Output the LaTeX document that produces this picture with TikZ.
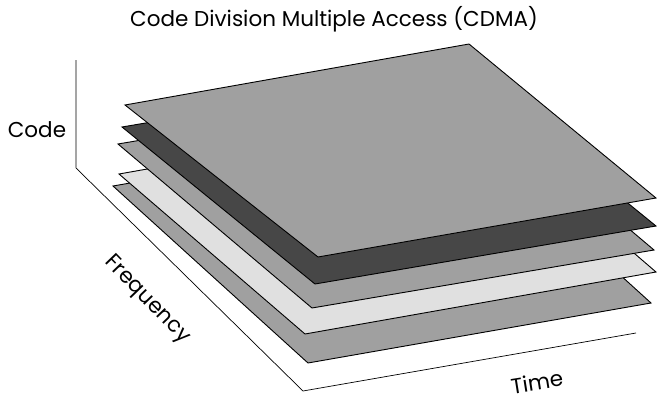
\documentclass[tikz,border=0pt]{standalone}
\usepackage{xcolor}
\usepackage{fontspec}
\setmainfont{Poppins}
\usepackage{tikz}
\definecolor{layergray}{RGB}{160, 160, 160}
\definecolor{layerdark}{RGB}{71, 71, 71}
\definecolor{layerlight}{RGB}{224, 224, 224}

\begin{document}
\begin{tikzpicture}[x=1pt, y=-1pt]
  \tikzstyle{layer} = [draw=black, line width=0.9pt, line join=miter, fill=layergray]
  \tikzstyle{axis} = [draw=black, line width=0.7pt]
  \tikzstyle{label} = [font=\fontsize{21.5}{25}\selectfont, inner sep=0pt]

  \useasboundingbox (0,0) rectangle (657,399);

  % axes
  \coordinate (codetop) at (76,60);
  \coordinate (origin) at (76,168);
  \coordinate (freqend) at (303,391);
  \coordinate (timeend) at (636,333);
  \draw [axis] (codetop) -- (origin) -- (freqend) -- (timeend);

  % layers, bottom to top: left, back, right, front corner
  \draw [layer] (113,186) -- (456,126) -- (651,303) -- (308,363) -- cycle;
  \draw [layer, fill=layerlight] (119,174) -- (470,112) -- (656,272) -- (305,334) -- cycle;
  \draw [layer] (118,144) -- (460,86) -- (654,250) -- (312,308) -- cycle;
  \draw [layer, fill=layerdark] (122,127) -- (463,69) -- (656,226) -- (315,284) -- cycle;
  \draw [layer] (125,105) -- (469,44) -- (656,198) -- (318,257) -- cycle;

  \node (title) [label] at (334,19) {Code Division Multiple Access (CDMA)};
  \node (code) [label] at (37,130) {Code};
  \node (freq) [label, rotate=-46] at (147,300) {Frequency};
  \node (time) [label, rotate=9] at (537,382) {Time};
\end{tikzpicture}
\end{document}
